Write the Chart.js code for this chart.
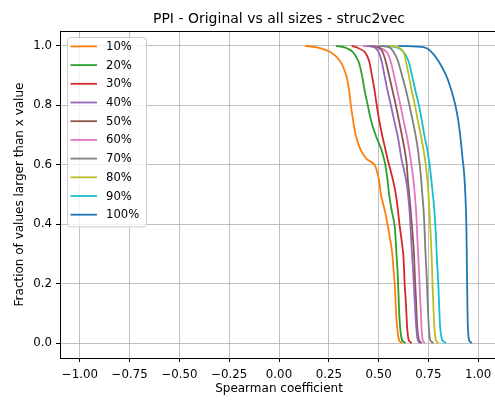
<!DOCTYPE html>
<html>
<head>
<meta charset="utf-8">
<title>PPI - Original vs all sizes - struc2vec</title>
<script src="https://cdn.jsdelivr.net/npm/chart.js@4.4.1/dist/chart.umd.min.js"></script>
<style>
  html, body { margin: 0; padding: 0; background: #fff; overflow: hidden; }
  #wrap { width: 495px; height: 401px; overflow: hidden; }
</style>
</head>
<body>
<div id="wrap"><canvas id="chart" width="503" height="401"></canvas></div>
<script>
// fraction of values larger than x, shared by every curve
const fractions = [1.0, 0.995, 0.98, 0.95, 0.9, 0.85, 0.8, 0.75, 0.7, 0.65, 0.62, 0.6,
  0.55, 0.5, 0.45, 0.4, 0.35, 0.3, 0.25, 0.2, 0.15, 0.1, 0.05, 0.01, 0.0];

// spearman coefficient reached at each fraction, one array per sample size
const pct10 = [0.13, 0.19, 0.256, 0.306, 0.338, 0.352, 0.361, 0.372, 0.385, 0.41, 0.44, 0.48,
  0.502, 0.512, 0.53, 0.545, 0.558, 0.569, 0.575, 0.581, 0.585, 0.588, 0.594, 0.603, 0.618];
const pct20 = [0.286, 0.33, 0.37, 0.398, 0.417, 0.43, 0.446, 0.462, 0.485, 0.515, 0.527, 0.534,
  0.545, 0.553, 0.565, 0.58, 0.586, 0.59, 0.595, 0.598, 0.601, 0.604, 0.609, 0.618, 0.635];
const pct30 = [0.365, 0.39, 0.43, 0.452, 0.467, 0.48, 0.491, 0.503, 0.518, 0.535, 0.545, 0.553,
  0.572, 0.587, 0.597, 0.605, 0.615, 0.624, 0.628, 0.631, 0.636, 0.64, 0.644, 0.652, 0.666];
const pct40 = [0.44, 0.48, 0.5, 0.515, 0.53, 0.545, 0.562, 0.578, 0.595, 0.608, 0.615, 0.622,
  0.638, 0.648, 0.655, 0.66, 0.664, 0.668, 0.673, 0.677, 0.681, 0.685, 0.69, 0.697, 0.707];
const pct50 = [0.46, 0.5, 0.52, 0.535, 0.553, 0.57, 0.587, 0.602, 0.617, 0.631, 0.638, 0.642,
  0.647, 0.654, 0.661, 0.667, 0.673, 0.678, 0.681, 0.684, 0.688, 0.691, 0.695, 0.703, 0.717];
const pct60 = [0.42, 0.5, 0.54, 0.56, 0.578, 0.594, 0.61, 0.625, 0.641, 0.654, 0.661, 0.665,
  0.675, 0.682, 0.688, 0.692, 0.695, 0.699, 0.703, 0.706, 0.709, 0.713, 0.716, 0.722, 0.732];
const pct70 = [0.5, 0.555, 0.575, 0.597, 0.618, 0.638, 0.655, 0.671, 0.686, 0.698, 0.703, 0.707,
  0.714, 0.72, 0.726, 0.73, 0.733, 0.736, 0.74, 0.743, 0.746, 0.749, 0.753, 0.76, 0.775];
const pct80 = [0.55, 0.6, 0.625, 0.637, 0.652, 0.666, 0.683, 0.697, 0.712, 0.726, 0.733, 0.737,
  0.745, 0.751, 0.755, 0.759, 0.763, 0.766, 0.769, 0.771, 0.774, 0.777, 0.781, 0.788, 0.8];
const pct90 = [0.515, 0.59, 0.625, 0.65, 0.668, 0.685, 0.703, 0.717, 0.73, 0.745, 0.752, 0.757,
  0.765, 0.773, 0.78, 0.785, 0.789, 0.792, 0.796, 0.8, 0.803, 0.806, 0.81, 0.82, 0.838];
const pct100 = [0.6, 0.73, 0.765, 0.8, 0.84, 0.866, 0.886, 0.9, 0.91, 0.918, 0.922, 0.926,
  0.932, 0.936, 0.939, 0.941, 0.942, 0.943, 0.944, 0.945, 0.946, 0.947, 0.949, 0.955, 0.968];

const sizeLabels = ['10%', '20%', '30%', '40%', '50%', '60%', '70%', '80%', '90%', '100%'];
const sizeSeries = [pct10, pct20, pct30, pct40, pct50, pct60, pct70, pct80, pct90, pct100];

const xTicks = [-1, -0.75, -0.5, -0.25, 0, 0.25, 0.5, 0.75, 1];
const yTicks = [0, 0.2, 0.4, 0.6, 0.8, 1.0];

const colors = ['#ff7f0e', '#2ca02c', '#d62728', '#9467bd', '#8c564b',
  '#e377c2', '#7f7f7f', '#bcbd22', '#17becf', '#1f77b4'];

const FONT = '"DejaVu Sans", "Liberation Sans", sans-serif';
Chart.defaults.font.family = FONT;
Chart.defaults.font.size = 12;
Chart.defaults.color = '#000';

const minus = s => s.replace('-', '\u2212');

// title over the plot area
const titlePlugin = {
  id: 'plotTitle',
  afterDraw(chart) {
    const { ctx, chartArea } = chart;
    ctx.save();
    ctx.font = '14px ' + FONT;
    ctx.fillStyle = '#000';
    ctx.textAlign = 'center';
    ctx.textBaseline = 'alphabetic';
    ctx.fillText('PPI - Original vs all sizes - struc2vec', (chartArea.left + chartArea.right) / 2, 23);
    ctx.restore();
  }
};

// top and right spines
const framePlugin = {
  id: 'frame',
  afterDatasetsDraw(chart) {
    const { ctx, chartArea: a } = chart;
    ctx.save();
    ctx.strokeStyle = '#000';
    ctx.lineWidth = 1;
    ctx.beginPath();
    ctx.moveTo(Math.round(a.left) + 0.5, Math.round(a.top) + 0.5);
    ctx.lineTo(Math.round(a.right) + 0.5, Math.round(a.top) + 0.5);
    ctx.lineTo(Math.round(a.right) + 0.5, Math.round(a.bottom) + 0.5);
    ctx.stroke();
    ctx.restore();
  }
};

// legend box in the upper left corner of the axes
const legendPlugin = {
  id: 'boxLegend',
  afterDraw(chart) {
    const { ctx, chartArea } = chart;
    const sets = chart.data.datasets;
    const x0 = chartArea.left + 7, y0 = chartArea.top + 6;
    const rowH = 18.7, w = 79, h = 9.4 + rowH * (sets.length - 1) + 11.7;
    ctx.save();
    ctx.beginPath();
    ctx.roundRect(x0 + 0.5, y0 + 0.5, w, h, 3);
    ctx.fillStyle = 'rgba(255,255,255,0.8)';
    ctx.fill();
    ctx.strokeStyle = '#cccccc';
    ctx.lineWidth = 1;
    ctx.stroke();
    ctx.font = '11.6px ' + FONT;
    ctx.textBaseline = 'middle';
    ctx.textAlign = 'left';
    sets.forEach((ds, i) => {
      const y = y0 + 9.4 + i * rowH;
      ctx.strokeStyle = ds.borderColor;
      ctx.lineWidth = 1.8;
      ctx.beginPath();
      ctx.moveTo(x0 + 3.5, y);
      ctx.lineTo(x0 + 30, y);
      ctx.stroke();
      ctx.fillStyle = '#000';
      ctx.fillText(ds.label, x0 + 39, y + 0.5);
    });
    ctx.restore();
  }
};

new Chart(document.getElementById('chart'), {
  type: 'line',
  data: {
    datasets: sizeSeries.map((xs, i) => ({
      label: sizeLabels[i],
      data: xs.map((x, j) => ({ x: x, y: fractions[j] })),
      borderColor: colors[i],
      backgroundColor: colors[i],
      borderWidth: 1.8,
      pointRadius: 0,
      tension: 0.3,
      fill: false
    }))
  },
  options: {
    responsive: false,
    devicePixelRatio: 1,
    animation: false,
    layout: { padding: { top: 31, right: 5, left: 0, bottom: 0 } },
    plugins: { legend: { display: false }, tooltip: { enabled: false } },
    scales: {
      x: {
        type: 'linear',
        min: -1.1,
        max: 1.1,
        afterBuildTicks: s => { s.ticks = xTicks.map(v => ({ value: v })); },
        afterFit: s => { s.height = 43; },
        ticks: {
          padding: 6,
          font: { size: 11.8 },
          maxRotation: 0,
          callback: v => minus(v.toFixed(2))
        },
        grid: { color: '#b0b0b0', lineWidth: 0.8, tickColor: '#000', tickLength: 4, tickWidth: 1 },
        border: { display: true, color: '#000', width: 1 },
        title: { display: true, text: 'Spearman coefficient', font: { size: 12 }, padding: { top: 0, bottom: 5 } }
      },
      y: {
        type: 'linear',
        min: -0.05,
        max: 1.05,
        afterBuildTicks: s => { s.ticks = yTicks.map(v => ({ value: v })); },
        afterFit: s => { s.width = 60; },
        ticks: {
          padding: 4,
          font: { size: 11.8 },
          callback: v => v.toFixed(1)
        },
        grid: { color: '#b0b0b0', lineWidth: 0.8, tickColor: '#000', tickLength: 4, tickWidth: 1 },
        border: { display: true, color: '#000', width: 1 },
        title: { display: true, text: 'Fraction of values larger than x value', font: { size: 12 }, padding: { top: 13, bottom: 0 } }
      }
    }
  },
  plugins: [framePlugin, titlePlugin, legendPlugin]
});
</script>
</body>
</html>
